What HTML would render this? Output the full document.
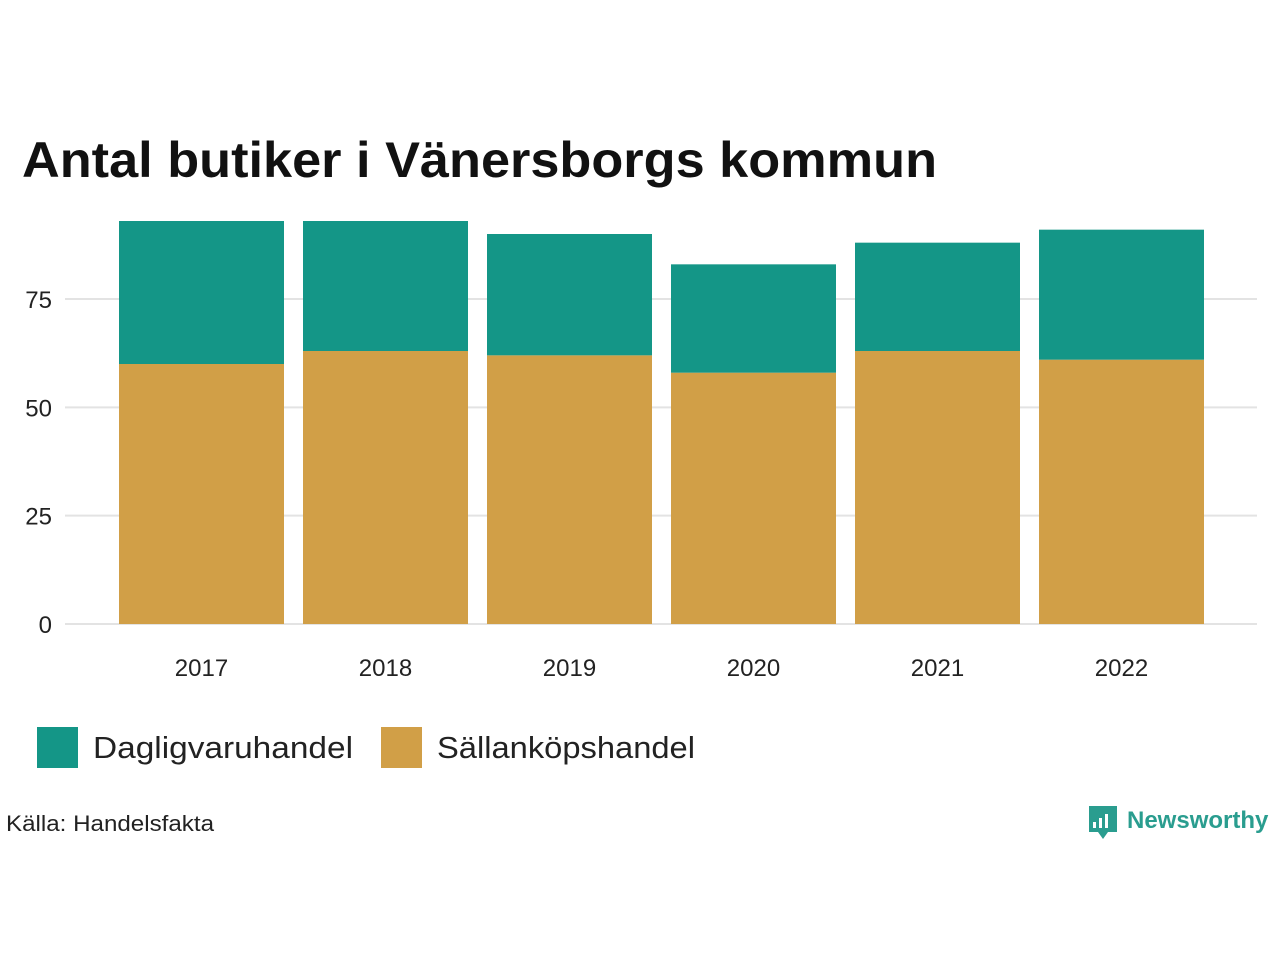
<!DOCTYPE html>
<html><head><meta charset="utf-8"><style>
body{margin:0;background:#fff;width:1280px;height:960px;overflow:hidden;font-family:"Liberation Sans","DejaVu Sans",sans-serif;}
</style></head><body>
<svg width="1280" height="960">
<text x="22" y="177" font-size="50" font-weight="bold" fill="#111" textLength="915" lengthAdjust="spacingAndGlyphs">Antal butiker i Vänersborgs kommun</text>
<g id="grid"></g>
<g id="bars"></g>
<g id="xl"></g>
<g>
<rect x="37" y="727" width="41" height="41" fill="#149687"/>
<text x="93" y="758" font-size="31" fill="#222" textLength="260" lengthAdjust="spacingAndGlyphs">Dagligvaruhandel</text>
<rect x="381" y="727" width="41" height="41" fill="#d19f47"/>
<text x="437" y="758" font-size="31" fill="#222" textLength="258" lengthAdjust="spacingAndGlyphs">Sällanköpshandel</text>
</g>
<text x="6" y="831" font-size="22" fill="#222" textLength="208" lengthAdjust="spacingAndGlyphs">Källa: Handelsfakta</text>
<g>
<path d="M1089 806h28v26h-9l-5 7-5-7h-9z" fill="#2a9d8f"/>
<rect x="1093" y="822" width="3" height="6" fill="#fff"/><rect x="1099" y="818" width="3" height="10" fill="#fff"/><rect x="1105" y="814" width="3" height="14" fill="#fff"/>
<text x="1127" y="828" font-size="24" font-weight="bold" fill="#2a9d8f">Newsworthy</text>
</g>
</svg>
<script>
const years=['2017','2018','2019','2020','2021','2022'];
const sallan=[60,63,62,58,63,61];
const daglig=[33,30,28,25,25,30];
const ticks=[0,25,50,75];
const NS='http://www.w3.org/2000/svg';
const y=v=>624-v*(325/75);
const x=i=>119+i*184;
const bw=165;
function mk(tag,attrs,parent){const e=document.createElementNS(NS,tag);for(const k in attrs)e.setAttribute(k,attrs[k]);parent.appendChild(e);return e;}
const g=document.getElementById('grid');
ticks.forEach(t=>{
 const l=mk('line',{x1:65,x2:1257,y1:y(t),y2:y(t),stroke:'#e3e3e3','stroke-width':2},g);
 
 
 const tx=mk('text',{x:52,y:y(t)+9,'font-size':24,fill:'#222','text-anchor':'end'},g);
 tx.textContent=t;
 
 
});
const b=document.getElementById('bars'),xl=document.getElementById('xl');
years.forEach((yr,i)=>{
 const r1=mk('rect',{x:x(i),y:y(sallan[i]),width:bw,height:y(0)-y(sallan[i]),fill:'#d19f47'},b);
 
 
 const tot=sallan[i]+daglig[i];
 const r2=mk('rect',{x:x(i),y:y(tot),width:bw,height:y(sallan[i])-y(tot),fill:'#149687'},b);
 
 
 const t=mk('text',{x:x(i)+bw/2,y:676,'font-size':24,fill:'#222','text-anchor':'middle'},xl);
 t.textContent=yr;
 
 
});
</script>
</body></html>
